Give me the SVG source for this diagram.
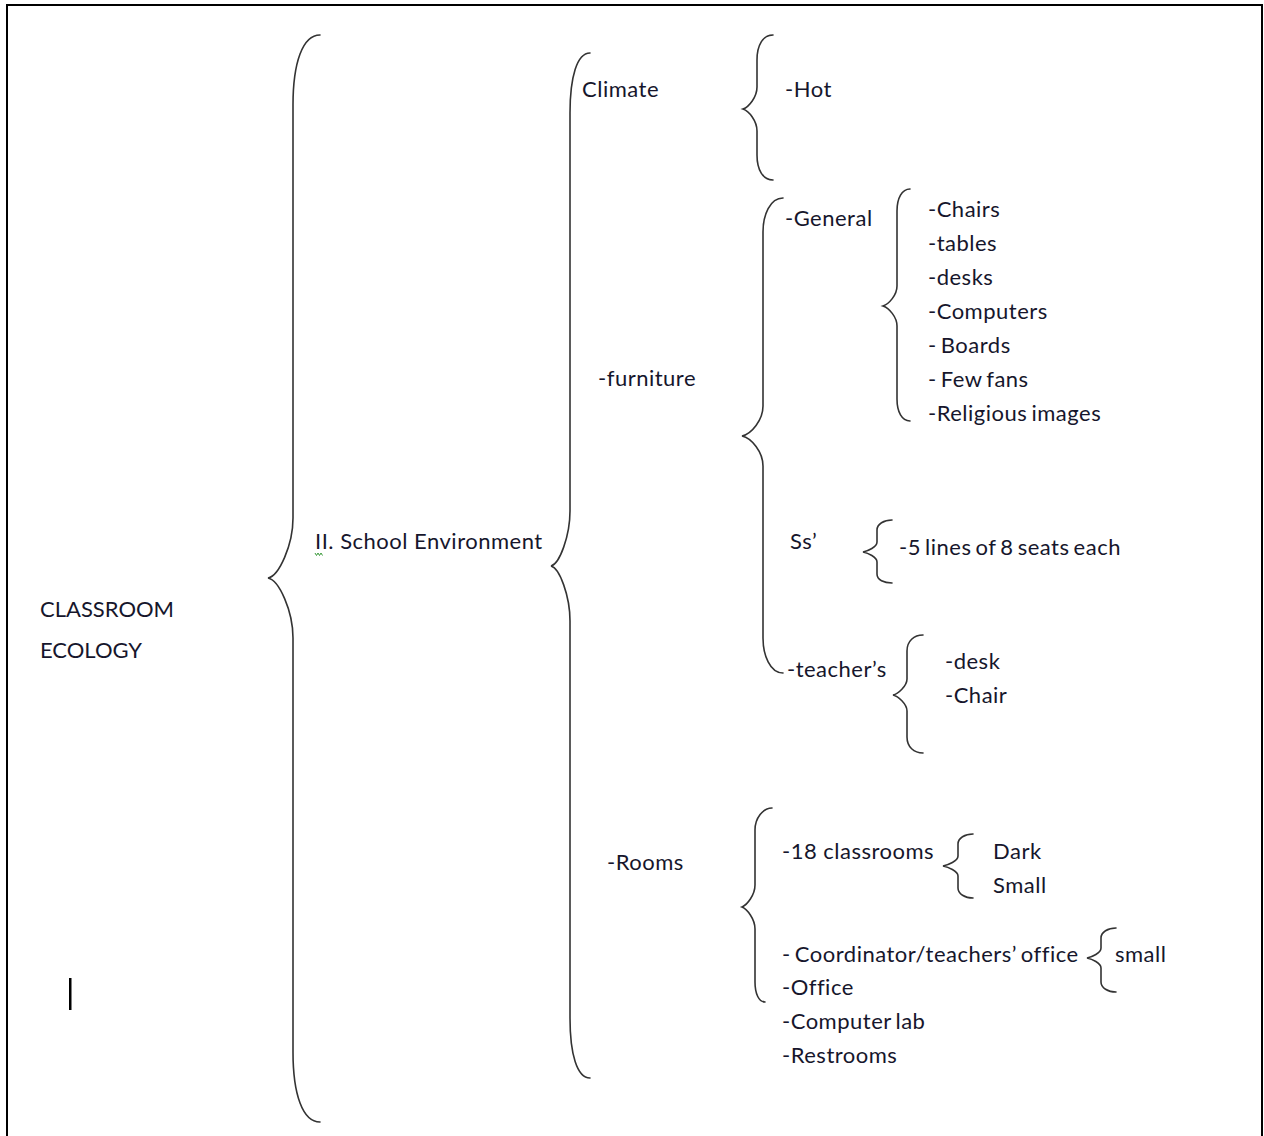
<svg xmlns="http://www.w3.org/2000/svg" width="1264" height="1136" viewBox="0 0 1264 1136">
  <style>
    .t { font-family: Lato, "Liberation Sans", sans-serif; font-size: 22px; letter-spacing: 0.5px; fill: #16162c; }
    .caps { letter-spacing: 0; }
    .tight { word-spacing: -2px; }
    .brace { fill: none; stroke: #333; stroke-width: 1.6; stroke-linecap: round; }
  </style>
  <rect x="0" y="0" width="1264" height="1136" fill="#fff"/>
  <!-- page frame -->
  <rect x="7" y="5" width="1255" height="1140" fill="none" stroke="#000" stroke-width="2"/>

  <!-- braces joining each level to the next -->
  <g id="connectors">
    <path class="brace" d="M320,35 C302.5,35 293,63 293,105 L293,518 C293,545 279,576 268,578 C279,580 293,611 293,638 L293,1052 C293,1094 302.5,1122 320,1122"/>
    <path class="brace" d="M590,53 C577,53 570,77 570,113 L570,511 C570,536 559.5,564 551,566 C559.5,568 570,596 570,621 L570,1018 C570,1054 577,1078 590,1078"/>
    <path class="brace" d="M773,35 C763,35 757,45 757,60 L757,87 C757,97 749,107 743,109 C749,111 757,121 757,131 L757,155 C757,170 763,180 773,180"/>
    <path class="brace" d="M783,198 C770,198 763,215 763,232 L763,406 C763,420 751.5,434 742,436 C751.5,438 763,452 763,466 L763,638 C763,655 770,673 783,673"/>
    <path class="brace" d="M910,189 C902,189 897,198 897,211 L897,286 C897,295 889,304 883,306 C889,308 897,317 897,326 L897,399 C897,412 902,421 910,421"/>
    <path class="brace" d="M892,520 C884,520 877,524 877,530 L877,542 C877,547 868,551 863,552 C868,553 877,557 877,562 L877,574 C877,580 884,583 892,583"/>
    <path class="brace" d="M923,635 C914,635 907,641 907,651 L907,679 C907,686 898,694 893,695 C898,696 907,704 907,711 L907,737 C907,747 914,753 923,753"/>
    <path class="brace" d="M772,808 C763,808 755,818 755,830 L755,885 C755,895 747,905 742,907 C747,909 755,919 755,929 L755,982 C755,994 759,1002 765,1002"/>
    <path class="brace" d="M973,834 C965,834 958,838 958,844 L958,856 C958,861 948,865 943,866 C948,867 958,871 958,876 L958,888 C958,894 965,898 973,898"/>
    <path class="brace" d="M1116,928 C1108,928 1101,932 1101,938 L1101,948 C1101,953 1092,957 1087,958 C1092,959 1101,963 1101,968 L1101,982 C1101,988 1108,992 1116,992"/>
  </g>

  <g id="root">
    <text class="t caps" x="40" y="617">CLASSROOM</text>
    <text class="t caps" x="40" y="658">ECOLOGY</text>
  </g>

  <g id="school-environment">
    <text class="t" x="315" y="549">II. School Environment</text>
    <path d="M315,553 l1.5,2.5 l1.5,-2.5 l1.5,2.5 l1.5,-2.5 l1.5,2.5" fill="none" stroke="#3a9a3a" stroke-width="1"/>
  </g>

  <g id="climate">
    <text class="t" x="582" y="97">Climate</text>
  </g>
  <g id="climate-items">
    <text class="t" x="785" y="97">-Hot</text>
  </g>

  <g id="furniture">
    <text class="t" x="598" y="386">-furniture</text>
  </g>
  <g id="general">
    <text class="t" x="785" y="226">-General</text>
  </g>
  <g id="general-items">
    <text class="t" x="928" y="217">-Chairs</text>
    <text class="t" x="928" y="251">-tables</text>
    <text class="t" x="928" y="285">-desks</text>
    <text class="t" x="928" y="319">-Computers</text>
    <text class="t tight" x="928" y="353">- Boards</text>
    <text class="t tight" x="928" y="387">- Few fans</text>
    <text class="t tight" x="928" y="421">-Religious images</text>
  </g>
  <g id="students">
    <text class="t" x="790" y="549">Ss’</text>
  </g>
  <g id="students-items">
    <text class="t tight" x="899" y="555">-5 lines of 8 seats each</text>
  </g>
  <g id="teachers">
    <text class="t" x="787" y="677">-teacher’s</text>
  </g>
  <g id="teachers-items">
    <text class="t" x="945" y="669">-desk</text>
    <text class="t" x="945" y="703">-Chair</text>
  </g>

  <g id="rooms">
    <text class="t" x="607" y="870">-Rooms</text>
  </g>
  <g id="classrooms">
    <text class="t" x="782" y="859">-18 classrooms</text>
  </g>
  <g id="classrooms-items">
    <text class="t" x="993" y="859">Dark</text>
    <text class="t" x="993" y="893">Small</text>
  </g>
  <g id="rooms-items">
    <text class="t tight" x="782" y="962">- Coordinator/teachers’ office</text>
    <text class="t" x="782" y="995">-Office</text>
    <text class="t tight" x="782" y="1029">-Computer lab</text>
    <text class="t" x="782" y="1063">-Restrooms</text>
  </g>
  <g id="office-items">
    <text class="t" x="1115" y="962">small</text>
  </g>

  <!-- text cursor -->
  <rect x="69" y="978" width="2.5" height="32" fill="#000"/>
</svg>
